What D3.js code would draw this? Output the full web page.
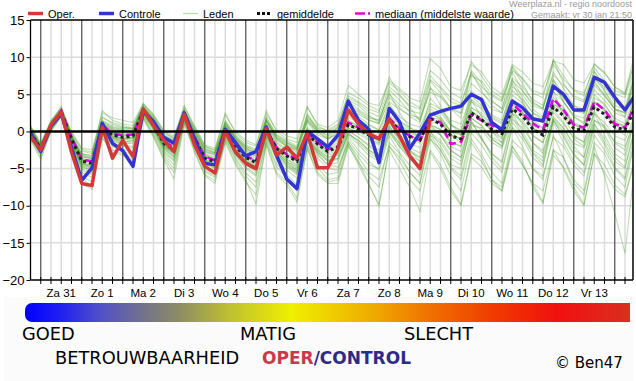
<!DOCTYPE html>
<html>
<head>
<meta charset="utf-8" />
<script src="https://d3js.org/d3.v7.min.js"></script>
<style>
  body { margin: 0; background: #fff; }
  svg text { font-family: "Liberation Sans", Arial, sans-serif; }
  .panel text { font-family: "DejaVu Sans", sans-serif; }
</style>
</head>
<body>
<script>
// 6-hourly steps, step 0 = vr 30 jan 18 UTC
const dayLabels = ["Za 31", "Zo 1", "Ma 2", "Di 3", "Wo 4", "Do 5", "Vr 6", "Za 7", "Zo 8", "Ma 9", "Di 10", "Wo 11", "Do 12", "Vr 13"];
const yTicks = [15, 10, 5, 0, -5, -10, -15, -20];

// operational run (stops after step 39)
const operValues = [-0.7, -2.5, 0.9, 2.6, -2.8, -7.0, -7.3, 0.6, -3.6, -1.2, -3.4, 3.0, 0.8, -1.2, -2.7, 2.3,
  -1.8, -4.7, -5.6, 0.1, -2.8, -4.3, -5.0, 0.4, -3.2, -2.1, -3.6, -0.2, -4.9, -4.9, -2.3, 2.9,
  1.0, -0.3, -1.0, 1.7, -0.6, -3.3, -5.0, 1.7];

const controlValues = [-0.3, -2.7, 0.7, 2.4, -2.2, -6.6, -4.9, 1.1, -1.6, -2.6, -4.7, 2.8, 1.3, -0.8, -1.6, 2.5,
  -1.0, -4.3, -4.5, 0.3, -1.5, -3.3, -2.7, 0.6, -3.2, -6.4, -7.7, 0.0, -1.0, -2.1, -0.5, 4.1,
  1.5, 0.3, -4.2, 3.1, 1.3, -2.3, -0.2, 2.2, 2.7, 3.1, 3.4, 5.0, 4.3, 1.2, 0.2, 4.1,
  3.2, 1.7, 1.4, 6.1, 5.0, 2.9, 2.9, 7.3, 6.6, 4.6, 2.9, 4.9];

const meanValues = [-0.2, -2.3, 0.8, 2.5, -1.0, -4.0, -4.3, 0.4, -0.5, -0.8, -0.6, 2.8, 0.9, -1.6, -2.5, 2.2,
  -0.9, -3.6, -4.1, 0.0, -2.0, -3.5, -4.2, 0.2, -2.3, -3.3, -4.0, -0.3, -1.7, -2.7, -2.1, 0.9,
  0.3, -0.5, -1.0, 1.6, 0.2, -0.7, -1.2, 1.7, 1.0, -0.6, -1.0, 2.5, 1.6, 0.3, -0.3, 3.0,
  2.1, 0.3, -0.5, 3.3, 2.1, 0.4, 0.1, 3.3, 2.3, 0.6, 0.2, 3.2];

const medianValues = [-0.2, -2.4, 0.9, 2.8, -0.8, -3.8, -4.0, 0.9, -0.3, -0.5, -0.4, 2.9, 1.0, -1.3, -2.2, 2.3,
  -0.7, -3.4, -3.9, 0.2, -1.8, -3.3, -4.0, 0.3, -2.1, -3.1, -3.8, -0.1, -1.5, -2.4, -2.0, 1.2,
  0.5, -0.3, -0.9, 1.8, 0.4, -0.6, -1.2, 1.8, 1.2, -1.7, -1.4, 2.2, 1.5, 0.8, 0.2, 3.7,
  2.5, 1.1, 0.2, 4.4, 2.9, 0.9, 0.5, 4.0, 2.9, 1.0, 0.5, 3.7];

// ensemble members (leden), read approximately from the plume
const memberRuns = [
  [0.3,-2.0,1.1,2.8, -0.8,-3.2,-3.5,1.0, 0.2,0.0,-0.1,3.2, 1.5,-0.8,-1.6,2.6, -0.2,-2.8,-3.2,0.8, -1.2,-2.5,-3.1,1.3, -1.0,-2.0,-2.6,1.2, -0.5,-1.0,-0.4,2.8, 2.3,1.5,1.1,4.0, 3.0,2.2,1.8,5.3, 4.6,3.0,2.4,6.5, 5.2,4.0,3.1,7.2, 6.0,4.3,3.5,7.6, 6.2,4.8,4.2,8.0, 6.5,5.0,4.6,8.7],
  [-0.6,-2.8,0.4,2.2, -2.0,-5.0,-5.5,-0.3, -1.5,-2.0,-2.2,2.2, 0.2,-2.8,-4.0,1.6, -1.8,-4.8,-5.6,-0.8, -3.2,-5.0,-6.0,-0.9, -3.8,-5.2,-6.3,-1.4, -3.6,-5.0,-5.2,-0.8, -2.5,-4.0,-5.2,-0.6, -2.8,-4.6,-5.9,-1.0, -2.5,-4.8,-6.0,-0.2, -1.8,-4.0,-5.5,0.6, -1.0,-3.5,-4.8,1.2, -1.5,-4.0,-5.5,0.5, -1.8,-4.8,-6.2,0.0],
  [0.8,-1.6,1.5,3.2, -0.2,-2.4,-2.8,1.8, 1.2,0.8,0.4,3.6, 2.0,0.0,-1.0,3.0, 0.5,-2.0,-2.6,1.5, -0.5,-1.8,-2.4,2.0, -0.4,-1.2,-2.0,2.2, 0.2,-0.6,0.5,4.2, 3.5,2.2,1.2,5.6, 4.2,2.6,1.5,6.8, 5.2,3.0,1.8,8.2, 6.5,4.2,3.0,8.8, 7.0,5.2,4.5,9.6, 7.5,5.5,4.8,9.1, 7.8,6.0,5.2,10.7],
  [-0.4,-2.5,0.6,2.4, -1.6,-4.6,-5.0,0.2, -0.8,-1.5,-1.2,2.6, 0.6,-2.2,-3.2,2.0, -1.2,-4.2,-4.8,-0.4, -2.6,-4.4,-5.5,-0.5, -3.0,-4.5,-5.5,-1.0, -2.5,-3.5,-3.0,0.2, -0.8,-2.0,-3.0,0.8, -1.2,-2.8,-3.5,0.9, -0.5,-2.5,-3.5,1.2, -0.8,-3.5,-5.0,0.5, -2.0,-5.0,-6.5,-0.5, -3.5,-7.0,-8.5,-2.0, -6.0,-11.0,-16.4,-4.0],
  [-1.2,-3.8,0.0,2.0, -2.6,-6.5,-7.2,-0.8, -2.5,-3.0,-3.5,1.8, -0.6,-3.6,-5.5,1.2, -2.6,-5.8,-6.6,-1.3, -4.2,-6.5,-9.8,-1.6, -5.5,-6.8,-9.0,-2.2, -5.5,-6.8,-6.5,-1.8, -4.5,-7.2,-9.8,-2.5, -5.0,-7.5,-10.8,-2.8, -5.0,-8.0,-10.0,-3.5, -4.8,-7.0,-8.0,-2.6, -4.5,-7.0,-9.5,-3.2, -4.8,-7.5,-9.8,-3.0, -4.5,-7.2,-8.5,-3.5],
  [0.0,-2.1,1.0,2.7, -1.0,-3.6,-3.9,0.8, -0.1,-0.4,-0.2,3.0, 1.2,-1.2,-2.0,2.4, -0.5,-3.1,-3.6,0.5, -1.5,-3.0,-3.6,0.8, -1.6,-2.6,-3.2,0.4, -1.0,-2.0,-1.2,1.9, 1.2,0.4,-0.3,2.8, 1.4,0.5,0.0,3.4, 2.6,0.8,0.2,4.3, 3.2,1.8,1.0,4.9, 3.8,1.9,1.2,5.4, 4.0,2.2,1.8,5.6, 4.2,2.5,1.9,5.9],
  [-0.5,-2.6,0.5,2.3, -1.8,-4.5,-4.9,0.0, -1.0,-1.4,-1.3,2.4, 0.5,-2.1,-3.0,1.9, -1.4,-4.0,-4.6,-0.4, -2.5,-4.0,-4.8,-0.3, -2.8,-4.0,-4.8,-0.9, -2.4,-3.5,-3.2,0.0, -0.8,-1.8,-2.5,0.5, -1.0,-2.2,-2.9,0.3, -0.4,-2.0,-2.7,1.2, 0.2,-1.5,-2.3,1.6, 0.5,-1.5,-2.6,1.8, 0.4,-1.6,-2.2,1.5, 0.8,-1.4,-2.0,1.5],
  [0.6,-1.8,1.3,3.0, 0.0,-2.2,-2.5,2.5, 1.8,1.5,1.2,3.7, 2.3,0.2,-0.6,3.3, 0.8,-1.8,-2.3,2.2, 0.0,-1.2,-1.8,2.4, 0.2,-0.6,-1.0,3.4, 0.8,0.0,0.8,5.2, 4.5,3.5,2.8,6.5, 5.5,4.0,3.2,8.2, 7.0,5.2,4.5,9.4, 7.5,5.5,4.5,8.6, 6.5,4.0,3.0,8.0, 5.8,3.5,2.5,7.2, 5.5,3.0,2.4,7.8],
  [-0.8,-3.0,0.2,2.1, -2.2,-5.5,-6.2,-0.5, -1.8,-2.4,-2.8,2.0, -0.2,-3.0,-4.5,1.4, -2.0,-5.2,-6.0,-1.0, -3.5,-5.6,-6.8,-1.2, -4.4,-5.8,-7.2,-1.8, -4.5,-5.8,-5.5,-1.2, -3.0,-4.5,-5.0,0.0, -1.5,-3.2,-4.0,1.0, 0.2,-1.5,-2.0,2.8, 1.5,0.0,-1.0,3.8, 2.5,0.5,-0.5,4.6, 3.2,1.2,0.6,5.0, 3.5,1.8,1.0,5.2],
  [0.2,-2.2,1.0,2.6, -0.8,-3.4,-3.6,1.2, 0.4,0.2,0.0,3.1, 1.6,-0.6,-1.4,2.7, 0.0,-2.6,-3.0,1.0, -0.8,-2.0,-2.6,1.6, -0.6,-1.5,-2.2,2.0, 0.5,0.2,1.0,4.8, 4.0,3.0,2.5,7.3, 5.0,3.2,1.5,6.0, 3.5,1.0,-0.5,4.2, 2.0,0.0,-1.5,3.0, 1.0,-1.5,-3.0,2.0, 0.5,-2.0,-3.5,1.5, 0.5,-2.2,-3.2,2.0],
  [-0.3,-2.4,0.7,2.5, -1.4,-4.2,-4.6,0.3, -0.6,-1.0,-0.9,2.7, 0.8,-1.9,-2.8,2.1, -1.0,-3.8,-4.4,-0.2, -2.3,-3.9,-4.6,-0.2, -2.8,-4.0,-5.0,-1.0, -3.0,-4.5,-4.8,-1.5, -3.5,-5.5,-6.5,-2.0, -4.0,-6.5,-8.0,-2.5, -4.5,-7.5,-9.8,-3.0, -4.0,-6.5,-7.5,-2.0, -4.5,-7.0,-8.0,-2.5, -5.0,-8.0,-10.0,-3.0, -5.5,-7.8,-8.8,-3.8],
  [0.5,-1.9,1.2,2.9, -0.5,-3.0,-3.2,1.5, 0.8,0.5,0.6,3.4, 1.8,-0.2,-1.0,2.9, 0.2,-2.2,-2.8,1.2, -0.8,-2.2,-2.8,1.5, -0.8,-1.8,-2.4,1.6, 0.0,-0.8,0.2,3.6, 2.8,1.8,1.5,5.0, 3.6,2.8,2.4,7.0, 5.8,4.0,3.5,7.8, 6.0,4.8,4.0,8.2, 7.2,5.5,5.0,9.0, 7.0,5.6,5.2,8.6, 6.8,5.5,5.0,9.5],
  [-0.1,-2.2,0.9,2.6, -1.2,-3.9,-4.1,0.6, -0.3,-0.6,-0.4,2.9, 1.0,-1.4,-2.3,2.3, -0.7,-3.3,-3.8,0.3, -1.8,-3.2,-3.9,0.6, -1.9,-2.9,-3.5,0.2, -1.2,-2.2,-1.5,1.6, 0.5,-0.5,-1.5,2.0, -0.5,-2.5,-4.0,1.0, 1.5,-0.5,-1.0,5.0, 4.5,3.0,2.5,6.5, 4.0,1.5,0.5,5.5, 2.0,-0.5,-1.5,4.0, 3.0,0.5,-0.5,5.5],
  [-0.9,-3.2,0.3,2.2, -2.4,-6.0,-6.8,-0.6, -2.0,-2.6,-3.2,1.9, -0.4,-3.3,-5.0,1.3, -2.2,-5.4,-6.2,-1.1, -3.8,-6.0,-7.5,-1.4, -4.8,-6.2,-8.0,-2.0, -4.8,-6.5,-6.2,-1.5, -4.0,-7.0,-10.1,-2.0, -3.5,-5.5,-7.0,0.0, -2.0,-4.5,-5.0,1.5, -1.0,-3.0,-4.0,2.0, -0.5,-3.0,-4.5,1.6, 0.0,-2.5,-3.5,2.5, -0.5,-3.0,-4.0,2.0],
  [0.4,-2.0,1.2,3.4, -0.6,-3.0,-3.3,2.8, 1.5,1.0,0.8,3.8, 2.2,0.0,-0.8,3.5, 0.6,-2.0,-2.5,2.5, -0.2,-1.5,-2.0,2.8, 0.0,-1.0,-1.5,3.2, 1.0,0.5,1.5,6.2, 5.0,3.8,3.5,6.8, 5.8,4.5,4.0,9.8, 8.5,6.0,5.5,9.0, 8.0,6.0,5.0,9.0, 8.0,6.5,6.0,9.5, 9.0,7.0,6.5,9.0, 8.0,6.0,5.0,9.8],
  [-0.7,-2.9,0.4,2.3, -2.0,-5.2,-5.8,-0.4, -1.3,-1.8,-2.0,2.3, 0.2,-2.6,-3.8,1.7, -1.6,-4.6,-5.4,-0.7, -3.0,-4.8,-5.8,-0.8, -3.5,-4.8,-5.8,-1.2, -3.2,-4.5,-4.2,-0.5, -1.8,-3.2,-4.0,-0.2, -2.0,-3.8,-4.6,-0.5, -1.5,-3.6,-4.5,0.5, -1.0,-3.0,-4.2,1.2, -0.5,-2.8,-4.0,1.5, -0.8,-3.2,-4.5,1.0, -1.0,-3.5,-4.8,0.8],
  [0.1,-2.0,0.9,2.7, -0.9,-3.4,-3.7,1.0, 0.1,-0.2,0.0,3.0, 1.3,-1.0,-1.8,2.5, -0.4,-3.0,-3.4,0.6, -1.3,-2.8,-3.4,0.9, -1.4,-2.4,-3.0,0.6, -0.8,-1.8,-1.0,2.2, 1.5,0.8,0.2,3.2, 2.0,1.0,0.6,3.8, 3.0,1.5,1.0,4.8, 3.5,2.2,1.5,5.5, 4.2,2.5,1.8,6.0, 4.5,2.8,2.4,6.2, 4.8,3.0,2.6,6.8],
  [-1.0,-3.5,0.1,2.0, -2.8,-7.0,-7.8,-0.9, -2.8,-3.2,-3.8,1.6, -0.8,-3.8,-6.4,1.0, -2.8,-6.0,-7.0,-1.5, -4.5,-6.8,-8.5,-1.8, -5.8,-7.2,-9.5,-2.4, -5.8,-7.0,-7.0,-2.0, -4.2,-6.0,-7.5,-1.5, -3.0,-5.5,-7.0,-1.0, -3.0,-6.0,-8.0,-1.5, -3.5,-6.5,-8.0,-2.0, -4.0,-7.5,-9.7,-2.5, -3.5,-6.5,-8.0,-1.5, -3.0,-6.0,-7.5,-1.0],
  [0.7,-1.7,1.4,3.1, -0.3,-2.6,-3.0,2.0, 1.0,0.6,0.3,3.5, 1.9,-0.4,-1.2,2.8, 0.3,-2.4,-2.9,1.3, -0.6,-2.0,-2.6,1.8, -0.5,-1.4,-2.2,1.8, 0.2,-0.5,0.5,4.0, 3.0,2.0,1.5,5.2, 2.5,0.5,-0.5,4.5, 3.0,1.0,0.0,5.5, 4.0,2.0,1.2,6.8, 5.5,3.5,3.0,9.6, 6.5,4.5,4.0,8.2, 5.5,3.5,3.0,7.5],
  [-0.4,-2.6,0.6,2.4, -1.5,-4.4,-4.8,0.2, -0.9,-1.2,-1.1,2.6, 0.7,-1.9,-2.8,2.0, -1.1,-3.9,-4.4,-0.2, -2.2,-3.8,-4.5,0.0, -2.6,-3.7,-4.4,-0.5, -2.0,-3.0,-2.6,0.5, -0.3,-1.2,-1.8,1.0, -0.5,-1.6,-2.2,0.8, 0.3,-1.4,-2.0,1.8, 0.8,-0.8,-1.5,2.4, 1.2,-0.6,-1.5,2.6, 1.0,-0.8,-1.4,2.4, 1.2,-0.6,-1.2,2.4],
  [0.2,-2.1,1.0,2.9, -0.7,-3.8,-4.0,1.3, 0.5,0.3,0.4,3.3, 1.4,-1.0,-2.0,2.6, -0.3,-3.2,-3.7,0.9, -1.0,-2.6,-3.3,1.2, -1.2,-2.0,-2.8,1.5, 0.0,-1.0,-0.2,3.0, 2.0,1.0,0.2,3.8, 1.5,0.2,-0.8,3.0, 2.0,0.0,-1.2,4.0, 3.0,1.2,0.5,6.0, 5.0,3.0,2.0,7.0, 4.0,2.0,1.0,6.5, 5.0,3.0,2.0,8.0],
  [-0.3,-2.2,0.7,2.6, -1.2,-4.4,-4.7,0.3, -0.7,-1.0,-0.8,2.6, 0.9,-1.8,-2.9,2.0, -1.0,-3.8,-4.5,-0.1, -2.4,-4.0,-4.8,-0.2, -2.6,-3.8,-4.6,-0.8, -2.2,-3.2,-2.8,0.4, 0.0,-1.0,-1.6,1.2, 0.5,-0.8,-1.6,2.0, 1.5,-0.5,-1.5,2.8, 1.8,0.2,-0.8,3.2, 2.5,0.5,-0.5,3.6, 3.0,1.0,0.2,4.5, 3.8,1.5,0.5,4.5],
  [-0.1,-2.3,0.8,2.5, -1.0,-3.8,-4.2,0.5, -0.4,-0.7,-0.5,2.8, 1.0,-1.5,-2.4,2.2, -0.8,-3.5,-4.0,0.1, -1.9,-3.4,-4.1,0.3, -2.2,-3.2,-3.9,-0.2, -1.6,-2.6,-2.0,1.0, 0.4,-0.4,-0.9,1.7, 0.3,-0.6,-1.1,1.8, 1.1,-0.5,-0.9,2.6, 1.7,0.4,-0.2,3.1, 2.2,0.4,-0.4,3.4, 2.2,0.5,0.2,3.4, 2.4,0.7,0.3,3.3],
  [-0.6,-2.7,0.5,2.3, -1.7,-4.8,-5.3,0.0, -1.2,-1.7,-1.6,2.4, 0.4,-2.4,-3.5,1.8, -1.5,-4.4,-5.0,-0.5, -2.8,-4.5,-5.2,-0.6, -3.2,-4.6,-5.6,-1.2, -2.8,-4.0,-3.8,-0.2, -1.5,-2.8,-3.8,0.0, -2.0,-3.5,-4.5,-0.2, -1.2,-3.2,-4.0,0.8, 0.5,-1.0,-2.0,2.5, 1.5,-0.5,-1.5,3.0, 1.2,-1.0,-2.0,2.8, 0.5,-1.5,-2.5,2.5],
  [0.4,-1.9,1.1,2.8, -0.6,-3.1,-3.4,1.4, 0.6,0.4,0.3,3.3, 1.7,-0.5,-1.3,2.8, 0.1,-2.4,-2.9,1.1, -0.9,-2.3,-2.9,1.4, -0.9,-1.9,-2.5,1.4, -0.2,-1.0,0.0,3.3, 2.6,1.6,1.0,4.6, 3.2,2.0,1.2,5.8, 4.8,3.2,2.5,7.5, 6.8,5.0,4.2,8.0, 5.5,3.8,3.2,7.0, 5.0,3.5,3.0,6.8, 4.8,3.0,2.5,6.5],
  [0.0,-2.4,0.8,2.4, -1.1,-4.0,-4.4,0.4, -0.5,-0.9,-0.7,2.7, 0.9,-1.6,-2.6,2.2, -0.9,-3.7,-4.2,0.0, -2.0,-3.6,-4.3,0.1, -2.4,-3.4,-4.1,-0.4, -1.8,-2.8,-2.2,0.8, 0.2,-0.6,-1.2,1.4, 0.8,-0.2,-0.8,2.4, 1.8,0.0,-0.5,3.2, 2.5,1.0,0.4,4.0, 3.0,1.2,0.4,4.2, 2.8,1.0,0.6,4.0, 3.0,1.2,0.8,4.2],
  [-0.2,-2.5,0.6,2.5, -1.3,-4.3,-4.6,0.2, -0.8,-1.1,-0.9,2.6, 0.7,-2.0,-3.0,2.0, -1.1,-4.0,-4.6,-0.3, -2.4,-4.0,-4.8,-0.3, -2.9,-4.2,-5.2,-1.0, -2.6,-3.8,-3.6,-0.3, -1.2,-2.5,-3.5,0.2, -1.6,-3.5,-5.0,-0.5, -2.5,-5.0,-6.5,-1.0, -3.0,-5.5,-7.0,-1.2, -2.5,-5.0,-6.0,-0.8, -2.0,-4.5,-6.0,-0.5, -2.5,-5.0,-6.5,-1.0],
  [0.3,-2.0,1.0,2.7, -0.7,-3.3,-3.6,1.1, 0.3,0.1,0.1,3.2, 1.5,-0.7,-1.5,2.6, -0.1,-2.7,-3.1,0.8, -1.0,-2.3,-3.0,1.6, -0.8,-1.6,-2.4,2.4, 0.4,-0.2,0.6,4.5, 3.8,2.6,2.0,6.0, 4.8,3.5,3.0,7.5, 6.0,4.5,3.8,8.0, 5.5,3.5,2.5,7.0, 4.5,2.5,1.5,6.5, 4.0,2.0,1.2,7.0, 6.0,4.0,3.0,8.5],
  [-0.5,-2.7,0.5,2.3, -1.6,-4.7,-5.2,0.1, -1.1,-1.6,-1.5,2.4, 0.4,-2.3,-3.4,1.8, -1.4,-4.3,-4.9,-0.5, -2.7,-4.3,-5.1,-0.4, -3.0,-4.3,-5.3,-1.0, -2.8,-4.0,-3.6,-0.4, -1.2,-2.5,-3.2,0.6, -0.8,-2.5,-3.5,0.6, -0.5,-2.6,-3.5,1.8, 0.8,-1.0,-2.0,2.4, 0.0,-2.5,-3.5,1.5, -0.5,-3.0,-4.5,1.0, -1.5,-4.0,-5.0,0.5],
  [0.1,-2.2,0.9,2.6, -0.9,-3.7,-4.0,0.7, -0.2,-0.5,-0.3,3.0, 1.1,-1.3,-2.2,2.3, -0.6,-3.3,-3.8,0.3, -1.7,-3.2,-3.9,0.4, -2.0,-3.0,-3.7,0.0, -1.4,-2.4,-1.8,1.3, 0.8,0.0,-0.6,2.2, 1.0,0.0,-0.6,2.6, 1.6,0.0,-0.4,3.2, 2.2,0.8,0.2,3.6, 2.6,0.8,0.0,3.8, 2.6,0.8,0.5,3.8, 2.8,1.0,0.6,3.9]
];

const W = 636, H = 381;
const plot = { left: 30.5, right: 633, top: 20, bottom: 280 };
const nSteps = controlValues.length;

const svg = d3.select('body').append('svg')
  .attr('width', W)
  .attr('height', H);

const x = d3.scaleLinear().domain([0, nSteps - 1]).range([plot.left, plot.left + (nSteps - 1) * 10.25]);
const y = d3.scaleLinear().domain([-20, 15]).range([plot.bottom, plot.top]);

const defs = svg.append('defs');
defs.append('clipPath').attr('id', 'clip')
  .append('rect')
  .attr('x', plot.left).attr('y', plot.top)
  .attr('width', plot.right - plot.left).attr('height', plot.bottom - plot.top);

// grid
const steps = d3.range(1, nSteps).filter(s => x(s) < plot.right);
const grid = svg.append('g');
grid.selectAll('.hgrid')
  .data(yTicks.filter(v => v !== 0 && v !== 15 && v !== -20))
  .enter().append('line')
  .attr('x1', plot.left).attr('x2', plot.right)
  .attr('y1', d => y(d)).attr('y2', d => y(d))
  .attr('stroke', '#dcdcdc').attr('stroke-width', 1.5);
grid.selectAll('.vgrid')
  .data(steps)
  .enter().append('line')
  .attr('x1', d => x(d)).attr('x2', d => x(d))
  .attr('y1', plot.top).attr('y2', plot.bottom)
  .attr('stroke', d => (d % 4 === 1) ? '#5a5a5a' : '#dcdcdc')
  .attr('stroke-width', d => (d % 4 === 1) ? 1.3 : 1.5);

// lines
const line = d3.line().x((d, i) => x(i)).y(d => y(d));
const lines = svg.append('g').attr('clip-path', 'url(#clip)');

lines.selectAll('.member')
  .data(memberRuns)
  .enter().append('path')
  .attr('d', line)
  .attr('fill', 'none')
  .attr('stroke', '#3f9a1c')
  .attr('stroke-opacity', 0.33)
  .attr('stroke-width', 1.1);

// zero line
svg.append('line')
  .attr('x1', plot.left).attr('x2', plot.right)
  .attr('y1', y(0)).attr('y2', y(0))
  .attr('stroke', '#000').attr('stroke-width', 2.6);

lines.append('path').datum(medianValues)
  .attr('d', line).attr('fill', 'none')
  .attr('stroke', '#e000e0').attr('stroke-width', 2.5)
  .attr('stroke-dasharray', '8,4');

lines.append('path').datum(meanValues)
  .attr('d', line).attr('fill', 'none')
  .attr('stroke', '#222').attr('stroke-width', 3)
  .attr('stroke-dasharray', '3,3');

lines.append('path').datum(controlValues)
  .attr('d', line).attr('fill', 'none')
  .attr('stroke', '#3434d2').attr('stroke-width', 3.5)
  .attr('stroke-linejoin', 'round');

lines.append('path').datum(operValues)
  .attr('d', line).attr('fill', 'none')
  .attr('stroke', '#d43838').attr('stroke-width', 3.5)
  .attr('stroke-linejoin', 'round');

// frame
svg.append('line').attr('x1', plot.left).attr('x2', plot.right)
  .attr('y1', plot.top).attr('y2', plot.top)
  .attr('stroke', '#000').attr('stroke-width', 1.5);
svg.append('line').attr('x1', plot.left).attr('x2', plot.left)
  .attr('y1', plot.top).attr('y2', plot.bottom)
  .attr('stroke', '#000').attr('stroke-width', 1.3);
svg.append('line').attr('x1', plot.right).attr('x2', plot.right)
  .attr('y1', plot.top).attr('y2', plot.bottom)
  .attr('stroke', '#000').attr('stroke-width', 1.5);

// y axis
const yAxis = svg.append('g')
  .attr('transform', `translate(${plot.left},0)`)
  .call(d3.axisLeft(y).tickValues(yTicks).tickSize(4).tickPadding(2));
yAxis.select('.domain').remove();
yAxis.selectAll('.tick line').attr('stroke', '#000');
yAxis.selectAll('.tick text')
  .attr('font-size', 13).attr('fill', '#000')
  .style('font-family', '"Liberation Sans", Arial, sans-serif');

// x axis
const xAxis = svg.append('g')
  .attr('transform', `translate(0,${plot.bottom})`);
xAxis.append('line')
  .attr('x1', plot.left).attr('x2', plot.right)
  .attr('stroke', '#000').attr('stroke-width', 1.3);
xAxis.selectAll('.xt')
  .data(steps)
  .enter().append('line')
  .attr('x1', d => x(d)).attr('x2', d => x(d))
  .attr('y1', -3).attr('y2', 4)
  .attr('stroke', '#000');
xAxis.selectAll('.xl')
  .data(dayLabels)
  .enter().append('text')
  .attr('x', (d, i) => x(3 + 4 * i))
  .attr('y', 17)
  .attr('text-anchor', 'middle')
  .attr('font-size', 11.5)
  .text(d => d);

// legend
const legendItems = [
  { label: 'Oper.', x: 28, color: '#d43838', w: 3.5, dash: null },
  { label: 'Controle', x: 99, color: '#3434d2', w: 3.5, dash: null },
  { label: 'Leden', x: 183, color: '#b8dca8', w: 1.2, dash: null },
  { label: 'gemiddelde', x: 257, color: '#111', w: 3, dash: '3,2' },
  { label: 'mediaan (middelste waarde)', x: 355, color: '#e000e0', w: 2.5, dash: '10,3,2,3' }
];
const legend = svg.append('g');
legend.selectAll('line')
  .data(legendItems)
  .enter().append('line')
  .attr('x1', d => d.x).attr('x2', d => d.x + 15)
  .attr('y1', 13.5).attr('y2', 13.5)
  .attr('stroke', d => d.color)
  .attr('stroke-width', d => d.w)
  .attr('stroke-dasharray', d => d.dash);
legend.selectAll('text')
  .data(legendItems)
  .enter().append('text')
  .attr('x', d => d.x + 20)
  .attr('y', 17.5)
  .attr('font-size', 11)
  .text(d => d.label);

svg.append('text').attr('x', 632).attr('y', 6.5)
  .attr('text-anchor', 'end').attr('font-size', 9).attr('fill', '#9a9a9a')
  .text('Weerplaza.nl - regio noordoost');
svg.append('text').attr('x', 632).attr('y', 17.5)
  .attr('text-anchor', 'end').attr('font-size', 9).attr('fill', '#9a9a9a')
  .text('Gemaakt: vr 30 jan 21:50');

// reliability panel
const panel = svg.append('g').attr('class', 'panel');
panel.append('rect').attr('x', 4).attr('y', 297).attr('width', 630).attr('height', 84).attr('fill', '#fbfbfb');

const gradStops = [
  [0, '#0000ff'], [0.06, '#2020f0'], [0.124, '#5050c8'], [0.19, '#707090'], [0.25, '#8a8a68'],
  [0.34, '#c0c030'], [0.44, '#f0f000'], [0.58, '#f0a800'], [0.67, '#f07000'], [0.78, '#f03800'],
  [0.88, '#f01010'], [1, '#d83020']
];
const grad = defs.append('linearGradient').attr('id', 'rel')
  .attr('gradientUnits', 'userSpaceOnUse')
  .attr('x1', 25).attr('x2', 630).attr('y1', 0).attr('y2', 0);
grad.selectAll('stop').data(gradStops).enter().append('stop')
  .attr('offset', d => d[0]).attr('stop-color', d => d[1]);
panel.append('rect')
  .attr('x', 25).attr('y', 303).attr('width', 40).attr('height', 19)
  .attr('rx', 7).attr('fill', 'url(#rel)');
panel.append('rect')
  .attr('x', 35).attr('y', 303).attr('width', 595).attr('height', 19)
  .attr('fill', 'url(#rel)');

panel.append('text').attr('x', 22).attr('y', 340).attr('font-size', 17.8).text('GOED');
panel.append('text').attr('x', 240).attr('y', 340).attr('font-size', 17.8).text('MATIG');
panel.append('text').attr('x', 404).attr('y', 340).attr('font-size', 17.8).text('SLECHT');
panel.append('text').attr('x', 55).attr('y', 364).attr('font-size', 17.8).text('BETROUWBAARHEID');
const oc = panel.append('text').attr('x', 262).attr('y', 364).attr('font-size', 17).attr('font-weight', 'bold');
oc.append('tspan').attr('fill', '#c83a48').text('OPER');
oc.append('tspan').attr('fill', '#2c2c86').text('/CONTROL');
panel.append('text').attr('x', 555).attr('y', 368).attr('font-size', 15).text('© Ben47');
</script>
</body>
</html>
